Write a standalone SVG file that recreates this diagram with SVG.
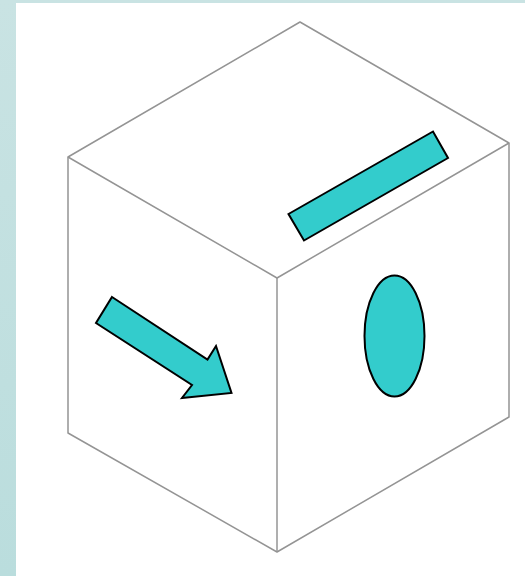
<svg xmlns="http://www.w3.org/2000/svg" width="525" height="576" viewBox="0 0 525 576">
<style>
.edge{fill:none;stroke:#949494;stroke-width:1.5;stroke-linejoin:round}
.shape{fill:#33cccc;stroke:#000;stroke-width:2;stroke-linejoin:miter}
</style>
<defs><linearGradient id="bg" x1="0" y1="0" x2="0" y2="1"><stop offset="0" stop-color="#c9e3e3"/><stop offset="1" stop-color="#badddd"/></linearGradient></defs>
<rect width="525" height="576" fill="url(#bg)"/>
<rect x="16" y="3" width="509" height="573" fill="#fff"/>
<g id="connectors">
<path class="edge" d="M68 157L300 22L509 143L509 417L277 552L68 433Z"/>
<path class="edge" d="M68 157L277 278L509 143"/>
<path class="edge" d="M277 278L277 552"/>
</g>
<g id="arrow"><polygon class="shape" points="112,297 207.500,359.500 216,346 231.500,393 182,398 192,385 96,323"/></g>
<g id="bar"><polygon class="shape" points="288.500,214 433,131.500 448,158 304,240.500"/></g>
<g id="ellipse"><ellipse class="shape" cx="394.500" cy="336" rx="30" ry="60.500"/></g>
</svg>
